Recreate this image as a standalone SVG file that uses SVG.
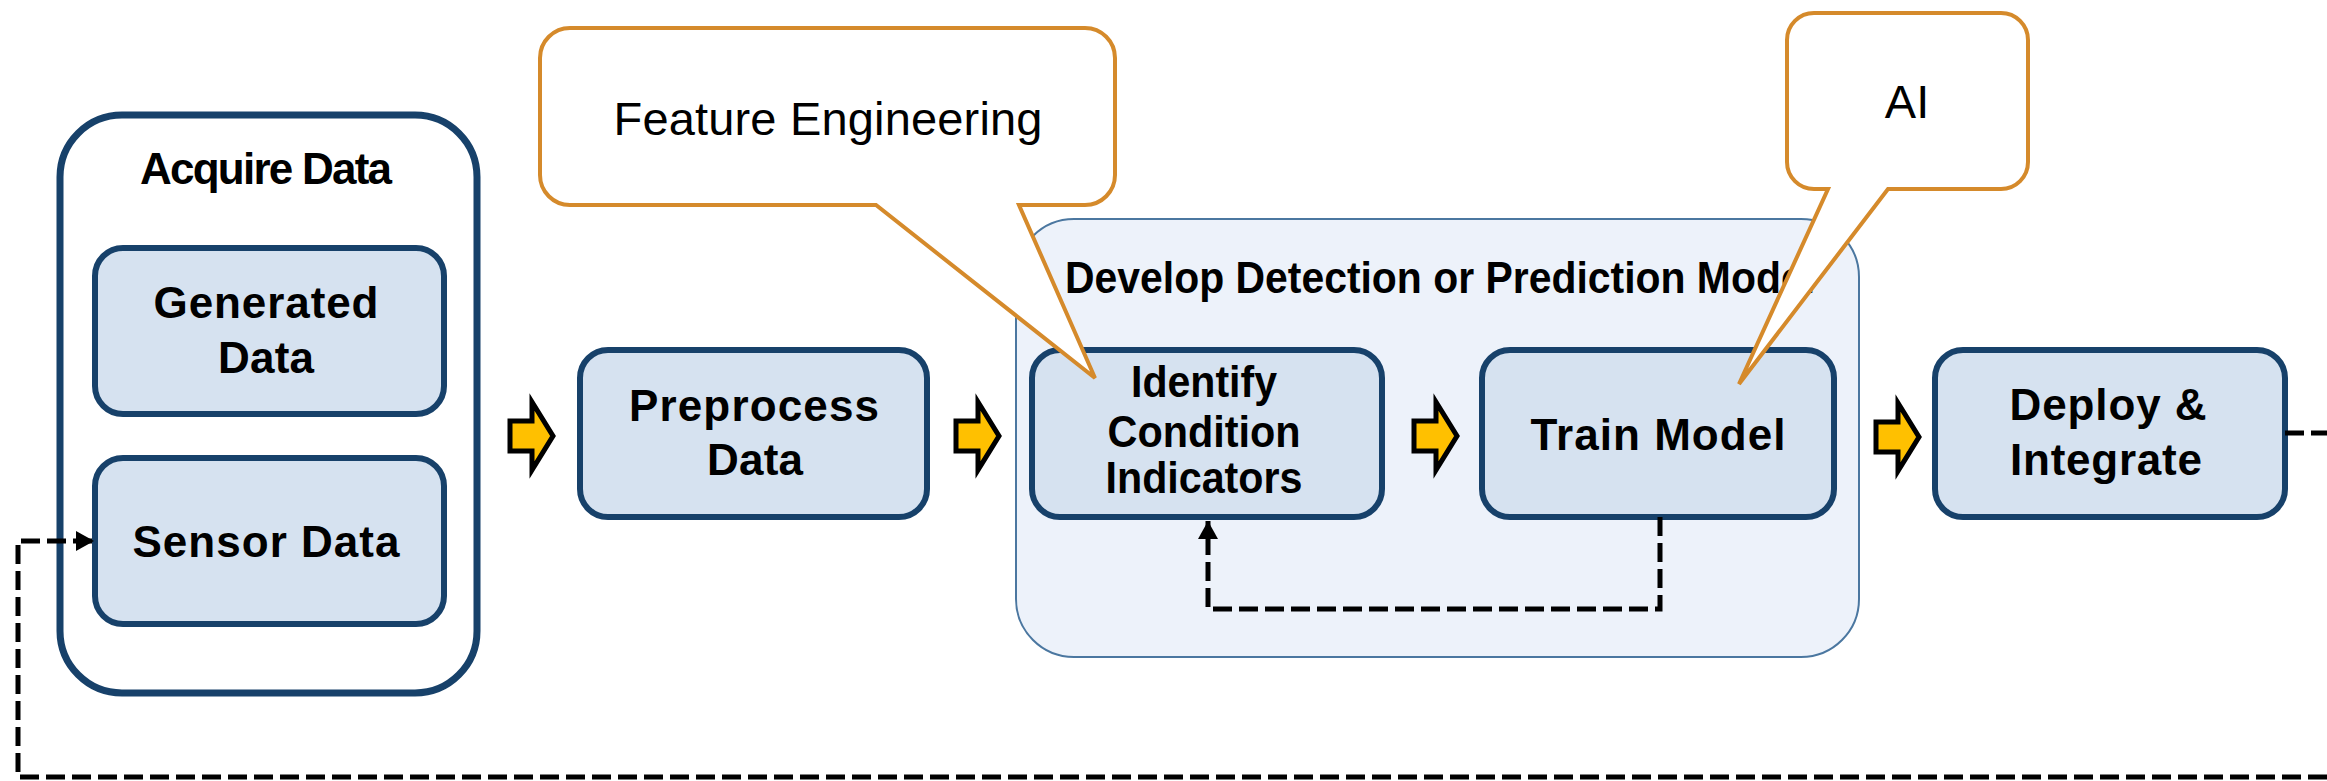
<svg xmlns="http://www.w3.org/2000/svg" width="2327" height="781" viewBox="0 0 2327 781">
<defs>
<style>
.box{fill:#d6e2f0;stroke:#17416a;stroke-width:6}
.outer{fill:#ffffff;stroke:#17416a;stroke-width:7}
.cont{fill:#edf2fa;stroke:#4b77a0;stroke-width:2}
.lbl{font-family:"Liberation Sans",Arial,sans-serif;font-weight:bold;font-size:44px;fill:#000;text-anchor:middle}
.call{fill:#ffffff;stroke:#d58a2b;stroke-width:4;stroke-linejoin:miter}
.ctext{font-family:"Liberation Sans",Arial,sans-serif;font-size:47px;fill:#000;text-anchor:middle}
.blk{fill:#ffc000;stroke:#000;stroke-width:5;stroke-linejoin:miter}
.dash{fill:none;stroke:#000;stroke-width:5;stroke-dasharray:19 7}
</style>
<marker id="ah" markerUnits="userSpaceOnUse" markerWidth="24" markerHeight="24" viewBox="0 0 24 24" refX="21" refY="12" orient="auto">
<path d="M3,2 L21,12 L3,22 Z" fill="#000"/>
</marker>
<path id="barrow" d="M-45,-15 L-23,-15 L-23,-34 L-2,0 L-23,34 L-23,15 L-45,15 Z"/>
</defs>
<rect width="2327" height="781" fill="#ffffff"/>

<g id="acquire">
<rect class="outer" x="60" y="115" width="417" height="578" rx="62"/>
<text class="lbl" x="266" y="184" font-size="40" textLength="252">Acquire Data</text>
</g>
<g id="generated">
<rect class="box" x="95" y="248" width="349" height="166" rx="28"/>
<text class="lbl" x="266" y="318" textLength="225">Generated</text>
<text class="lbl" x="266" y="373" textLength="96">Data</text>
</g>
<g id="sensor">
<rect class="box" x="95" y="458" width="349" height="166" rx="28"/>
<text class="lbl" x="266" y="557" textLength="267">Sensor Data</text>
</g>

<g id="preprocess">
<rect class="box" x="580" y="350" width="347" height="167" rx="28"/>
<text class="lbl" x="754" y="421" textLength="250">Preprocess</text>
<text class="lbl" x="755" y="475" textLength="96">Data</text>
</g>

<g id="develop">
<rect class="cont" x="1016" y="219" width="843" height="438" rx="58"/>
<text class="lbl" x="1065" y="293" font-size="41" style="text-anchor:start" textLength="750" lengthAdjust="spacingAndGlyphs">Develop Detection or Prediction Model</text>
</g>
<g id="identify">
<rect class="box" x="1032" y="350" width="350" height="167" rx="28"/>
<text class="lbl" x="1204" y="397" textLength="146" lengthAdjust="spacingAndGlyphs">Identify</text>
<text class="lbl" x="1204" y="447" textLength="193" lengthAdjust="spacingAndGlyphs">Condition</text>
<text class="lbl" x="1204" y="493" textLength="197" lengthAdjust="spacingAndGlyphs">Indicators</text>
</g>
<g id="train">
<rect class="box" x="1482" y="350" width="352" height="167" rx="28"/>
<text class="lbl" x="1658" y="450" font-size="45" textLength="255">Train Model</text>
</g>
<g id="deploy">
<rect class="box" x="1935" y="350" width="350" height="167" rx="28"/>
<text class="lbl" x="2108" y="420" textLength="197">Deploy &amp;</text>
<text class="lbl" x="2106" y="475" textLength="192">Integrate</text>
</g>

<g id="connectors">
<use href="#barrow" class="blk" x="555" y="436"/>
<use href="#barrow" class="blk" x="1001" y="436"/>
<use href="#barrow" class="blk" x="1459" y="436"/>
<use href="#barrow" class="blk" x="1921" y="437"/>
<path class="dash" d="M1660,517 V609 H1208 V521" marker-end="url(#ah)"/>
<path class="dash" d="M2285,433 H2327"/>
<path class="dash" d="M2327,777 H18 V541 H94" marker-end="url(#ah)"/>
</g>

<g id="callout-feature">
<path class="call" d="M570,28 H1085 A30,30 0 0 1 1115,58 V175 A30,30 0 0 1 1085,205 H1019 L1095,378 L876,205 H570 A30,30 0 0 1 540,175 V58 A30,30 0 0 1 570,28 Z"/>
<text class="ctext" x="828" y="135" textLength="429">Feature Engineering</text>
</g>
<g id="callout-ai">
<path class="call" d="M1814,13 H2001 A27,27 0 0 1 2028,40 V162 A27,27 0 0 1 2001,189 H1888 L1739,384 L1828,189 H1814 A27,27 0 0 1 1787,162 V40 A27,27 0 0 1 1814,13 Z"/>
<text class="ctext" x="1907" y="118" font-size="45">AI</text>
</g>
</svg>
